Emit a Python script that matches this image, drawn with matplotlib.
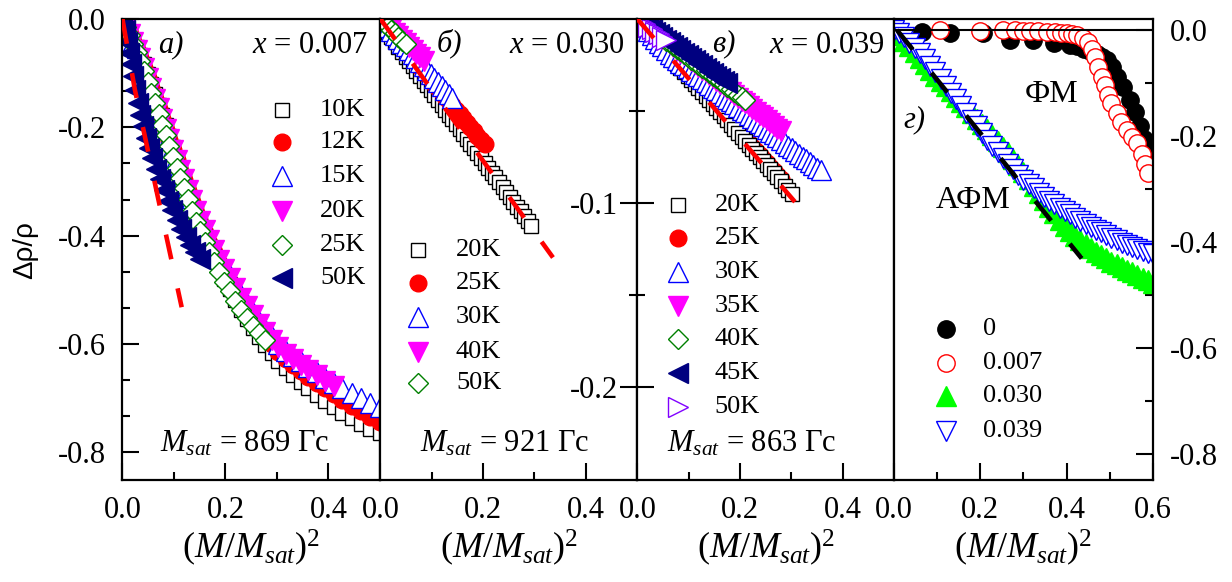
import matplotlib
matplotlib.use("Agg")
import matplotlib.pyplot as plt
from matplotlib.ticker import FixedLocator, FormatStrFormatter

plt.rcParams['font.family'] = ['Liberation Serif', 'DejaVu Serif']
plt.rcParams['mathtext.fontset'] = 'custom'
plt.rcParams['mathtext.rm'] = 'Liberation Serif'
plt.rcParams['mathtext.it'] = 'Liberation Serif:italic'
plt.rcParams['axes.unicode_minus'] = False

# ---------- panel a) x = 0.007 ----------
xa = [0.000, 0.007, 0.014, 0.021, 0.028, 0.035, 0.042, 0.049, 0.056, 0.063,
      0.070, 0.077, 0.084, 0.091, 0.098, 0.105, 0.112, 0.119, 0.127, 0.135,
      0.143, 0.151, 0.160, 0.169, 0.178, 0.188, 0.198, 0.208, 0.219, 0.230,
      0.241, 0.253, 0.265, 0.277, 0.290, 0.303, 0.317, 0.331, 0.346, 0.361,
      0.377, 0.393, 0.410, 0.427, 0.445, 0.463, 0.481, 0.500]
ya_10K = [0, -.013, -.026, -.039, -.052, -.066, -.083, -.101, -.120, -.139,
          -.158, -.177, -.196, -.216, -.236, -.256, -.276, -.295, -.316, -.337,
          -.358, -.378, -.399, -.419, -.439, -.460, -.480, -.499, -.518, -.537,
          -.554, -.571, -.587, -.602, -.617, -.631, -.645, -.658, -.670, -.682,
          -.694, -.705, -.716, -.727, -.737, -.747, -.756, -.765]
ya_12K = [0, -.014, -.028, -.043, -.057, -.072, -.090, -.109, -.128, -.147,
          -.166, -.185, -.204, -.223, -.242, -.261, -.280, -.298, -.318, -.338,
          -.358, -.376, -.395, -.413, -.431, -.450, -.468, -.486, -.504, -.522,
          -.538, -.555, -.571, -.586, -.600, -.614, -.627, -.638, -.649, -.660,
          -.671, -.682, -.693, -.704, -.714, -.724, -.734, -.744]
ya_15K = [0, -.013, -.026, -.040, -.054, -.068, -.086, -.104, -.123, -.142,
          -.160, -.179, -.198, -.217, -.236, -.255, -.273, -.290, -.310, -.330,
          -.349, -.366, -.384, -.402, -.420, -.439, -.456, -.473, -.491, -.509,
          -.524, -.541, -.557, -.572, -.586, -.599, -.612, -.622, -.632, -.642,
          -.652, -.662, -.672, -.681, -.690, -.699, -.708, -.717]
ya_20K = [0, -.014, -.028, -.043, -.057, -.072, -.090, -.109, -.128, -.147,
          -.165, -.184, -.203, -.222, -.241, -.260, -.278, -.295, -.315, -.335,
          -.355, -.372, -.390, -.408, -.426, -.445, -.462, -.479, -.497, -.515,
          -.530, -.547, -.563, -.578, -.592, -.605, -.618, -.628, -.638, -.648,
          -.658, -.668, -.678]
ya_25K = [0, -.015, -.030, -.046, -.061, -.077, -.096, -.116, -.136, -.156,
          -.175, -.195, -.215, -.235, -.255, -.275, -.294, -.312, -.333, -.354,
          -.374, -.392, -.411, -.430, -.448, -.467, -.485, -.502, -.520, -.537,
          -.552, -.567, -.580, -.592]
xa_50K = [0, .004, .008, .012, .016, .020, .025, .030, .035, .040, .046, .052,
          .058, .065, .072, .080, .088, .096, .105, .114, .123, .132, .141, .151]
ya_50K = [0, -.021, -.042, -.063, -.084, -.105, -.131, -.156, -.178, -.198,
          -.220, -.239, -.257, -.277, -.296, -.316, -.336, -.353, -.371, -.388,
          -.403, -.417, -.430, -.443]
fit_a_x = [0, 0.024, 0.069, 0.115]
fit_a_y = [0, -0.13, -0.33, -0.532]

# ---------- panels б) x = 0.030 and в) x = 0.039 ----------
xg = [0.000, 0.007, 0.014, 0.021, 0.028, 0.035, 0.042, 0.049, 0.056, 0.063,
      0.070, 0.077, 0.084, 0.091, 0.098, 0.105, 0.112, 0.119, 0.126, 0.133,
      0.140, 0.147, 0.154, 0.161, 0.168, 0.175, 0.182, 0.189, 0.196, 0.203,
      0.210, 0.217, 0.224, 0.231, 0.238, 0.245, 0.252, 0.259, 0.266, 0.273,
      0.280, 0.287, 0.294, 0.301, 0.308, 0.315, 0.322, 0.329, 0.336, 0.343,
      0.350, 0.357]
yb_20K = [0, -.0046, -.0073, -.0099, -.0125, -.0151, -.0178, -.0204, -.0230, -.0256,
          -.0283, -.0309, -.0335, -.0361, -.0388, -.0414, -.0440, -.0466, -.0493, -.0519,
          -.0545, -.0571, -.0598, -.0624, -.0650, -.0676, -.0703, -.0729, -.0755, -.0781,
          -.0808, -.0834, -.0860, -.0886, -.0913, -.0939, -.0965, -.0991, -.1018, -.1044,
          -.1070, -.1096, -.1123]
yb_25K = [0, -.0023, -.0047, -.0070, -.0094, -.0117, -.0141, -.0164, -.0188, -.0211,
          -.0235, -.0258, -.0281, -.0305, -.0328, -.0352, -.0375, -.0399, -.0422, -.0446,
          -.0469, -.0492, -.0516, -.0539, -.0563, -.0586, -.0610, -.0633, -.0657, -.0680]
yb_30K = [0, -.0021, -.0043, -.0064, -.0085, -.0107, -.0128, -.0149, -.0171, -.0192,
          -.0214, -.0235, -.0256, -.0278, -.0299, -.0320, -.0342, -.0363, -.0384, -.0406,
          -.0427]
yb_40K = [0, -.0019, -.0038, -.0057, -.0076, -.0095, -.0113, -.0132, -.0151, -.0170,
          -.0189, -.0208, -.0227]
yb_50K = [0, -.0020, -.0039, -.0059, -.0078, -.0098, -.0118, -.0137]
fit_b_x = [0, 0.336]
fit_b_y = [0, -0.1295]

yc_20K = [0, -.0022, -.0044, -.0066, -.0088, -.0110, -.0132, -.0154, -.0176, -.0198,
          -.0221, -.0243, -.0265, -.0287, -.0309, -.0331, -.0353, -.0375, -.0397, -.0419,
          -.0441, -.0463, -.0485, -.0507, -.0529, -.0551, -.0573, -.0595, -.0617, -.0639,
          -.0662, -.0684, -.0706, -.0728, -.0750, -.0772, -.0794, -.0816, -.0838, -.0860,
          -.0882, -.0904, -.0926, -.0948]
yc_25K = [0, -.0022, -.0043, -.0065, -.0087, -.0109, -.0130, -.0152, -.0174, -.0195,
          -.0217, -.0239, -.0260, -.0282, -.0304, -.0326, -.0347, -.0369, -.0391, -.0412,
          -.0434, -.0456, -.0477, -.0499, -.0521, -.0543, -.0564, -.0586, -.0608, -.0629,
          -.0651, -.0673, -.0694, -.0716, -.0738, -.0760, -.0781, -.0803, -.0825, -.0846,
          -.0868]
yc_30K = [0, -.0022, -.0044, -.0066, -.0087, -.0108, -.0128, -.0148, -.0168, -.0188,
          -.0207, -.0222, -.0237, -.0252, -.0267, -.0282, -.0297, -.0312, -.0327, -.0342,
          -.0357, -.0372, -.0387, -.0402, -.0417, -.0432, -.0447, -.0462, -.0477, -.0492,
          -.0507, -.0522, -.0537, -.0552, -.0567, -.0582, -.0597, -.0612, -.0627, -.0642,
          -.0657, -.0672, -.0687, -.0702, -.0717, -.0732, -.0747, -.0762, -.0777, -.0792,
          -.0807, -.0822]
yc_35K = [0, -.0015, -.0031, -.0046, -.0061, -.0076, -.0092, -.0107, -.0122, -.0137,
          -.0153, -.0168, -.0183, -.0198, -.0214, -.0229, -.0244, -.0259, -.0275, -.0290,
          -.0305, -.0320, -.0336, -.0351, -.0366, -.0382, -.0397, -.0412, -.0427, -.0443,
          -.0458, -.0473, -.0488, -.0504, -.0519, -.0534, -.0549, -.0565, -.0580, -.0595,
          -.0610]
yc_40K = [0, -.0015, -.0029, -.0044, -.0059, -.0074, -.0088, -.0103, -.0118, -.0132,
          -.0147, -.0162, -.0176, -.0191, -.0206, -.0221, -.0235, -.0250, -.0265, -.0279,
          -.0294, -.0309, -.0323, -.0338, -.0353, -.0368, -.0382, -.0397, -.0412, -.0426,
          -.0441]
yc_45K = [0, -.0014, -.0028, -.0042, -.0056, -.0070, -.0084, -.0098, -.0112, -.0126,
          -.0140, -.0154, -.0168, -.0182, -.0196, -.0210, -.0224, -.0238, -.0252, -.0266,
          -.0280, -.0294, -.0308, -.0322, -.0336, -.0350]
yc_50K = [0, -.0014, -.0028, -.0042, -.0056, -.0070, -.0084, -.0098, -.0112]
fit_c_x = [0, 0.307]
fit_c_y = [0, -0.0993]

# ---------- panel г) comparison ----------
xd_0 = [0.0, 0.064, 0.13, 0.206, 0.269, 0.322, 0.37, 0.408, 0.424, 0.44, 0.455, 0.47,
        0.483, 0.493, 0.505, 0.517, 0.53, 0.547, 0.558, 0.57, 0.58, 0.586, 0.595]
yd_0 = [0.0, -0.003, -0.006, -0.006, -0.019, -0.019, -0.024, -0.028, -0.031, -0.035,
        -0.04, -0.046, -0.051, -0.057, -0.07, -0.088, -0.108, -0.132, -0.155, -0.182,
        -0.205, -0.22, -0.245]
xd_007 = [0, 0.107, 0.199, 0.253, 0.28, 0.3, 0.315, 0.334, 0.354, 0.373, 0.388, 0.4,
          0.412, 0.423, 0.439, 0.45, 0.458, 0.466, 0.473, 0.481, 0.489, 0.496, 0.504,
          0.516, 0.527, 0.539, 0.551, 0.562, 0.574, 0.581, 0.589]
yd_007 = [0, 0.0, -0.001, 0.0, 0.0, -0.001, -0.001, -0.002, -0.003, -0.004, -0.005,
          -0.006, -0.007, -0.009, -0.016, -0.022, -0.035, -0.05, -0.069, -0.088, -0.104,
          -0.123, -0.138, -0.157, -0.173, -0.189, -0.201, -0.214, -0.233, -0.252, -0.27]
xd = [0.000, 0.012, 0.024, 0.036, 0.048, 0.060, 0.072, 0.084, 0.096, 0.108,
      0.120, 0.132, 0.144, 0.156, 0.168, 0.180, 0.192, 0.204, 0.216, 0.228,
      0.240, 0.252, 0.264, 0.276, 0.288, 0.300, 0.312, 0.324, 0.336, 0.348,
      0.360, 0.372, 0.384, 0.396, 0.408, 0.420, 0.432, 0.444, 0.456, 0.468,
      0.480, 0.492, 0.504, 0.516, 0.528, 0.540, 0.552, 0.564, 0.576, 0.588, 0.600]
yd_030 = [0, -.010, -.020, -.031, -.042, -.053, -.064, -.075, -.086, -.096,
          -.106, -.116, -.126, -.136, -.146, -.156, -.167, -.177, -.187, -.198,
          -.209, -.220, -.231, -.243, -.255, -.268, -.281, -.294, -.307, -.321,
          -.334, -.346, -.358, -.369, -.379, -.388, -.396, -.404, -.411, -.418,
          -.425, -.431, -.437, -.442, -.447, -.452, -.457, -.462, -.467, -.472, -.477]
yd_039 = [0, -.006, -.014, -.024, -.034, -.044, -.055, -.067, -.080, -.093,
          -.106, -.118, -.131, -.144, -.156, -.169, -.182, -.195, -.207, -.219,
          -.231, -.242, -.253, -.263, -.273, -.283, -.291, -.299, -.307, -.315,
          -.322, -.329, -.336, -.342, -.348, -.354, -.360, -.366, -.372, -.377,
          -.382, -.387, -.392, -.397, -.401, -.405, -.409, -.413, -.417, -.420, -.423]
fit_d_x = [0.007, 0.435]
fit_d_y = [0.0, -0.431]

# marker styles: (marker, colour, filled, size)
SQ = ('s', 'black', False, 10.5)
CI = ('o', 'red', True, 12)
UP = ('^', 'blue', False, 14)
DN = ('v', 'magenta', True, 14)
DI = ('D', 'green', False, 10)
LT = ('<', 'navy', True, 14)
RT = ('>', '#8000ff', False, 14)


def pts(ax, x, y, st, z=2):
    m, c, filled, ms = st
    ax.plot(x[:len(y)], y, ls='none', marker=m, ms=ms, mec=c,
            mfc=c if filled else 'white', mew=1.0, zorder=z)


def dashed(ax, x, y, c):
    ax.plot(x, y, color=c, lw=3.3, dashes=(5.5, 6.5), zorder=10)


def leg(ax, items, xm, xt, ys, fs=19):
    for (st, lab), yy in zip(items, ys):
        m, c, filled, ms = st
        ax.plot([xm], [yy], transform=ax.transAxes, ls='none', marker=m, ms=ms,
                mec=c, mfc=c if filled else 'white', mew=1.0, clip_on=False)
        ax.text(xt, yy, lab, transform=ax.transAxes, va='center', fontsize=fs)


fig = plt.figure(figsize=(12.32, 5.82), dpi=100)
bot, hgt = 0.1761, 0.7913
axa = fig.add_axes([0.0994, bot, 0.2090, hgt])
axb = fig.add_axes([0.3088, bot, 0.2084, hgt])
axc = fig.add_axes([0.5173, bot, 0.2084, hgt])
axd = fig.add_axes([0.7256, bot, 0.2102, hgt])

for ax in (axa, axb, axc, axd):
    for s in ax.spines.values():
        s.set_linewidth(1.6)
    ax.tick_params(which='both', direction='in', width=1.5, labelsize=22,
                   top=False, right=False, left=False, pad=12)
    ax.tick_params(which='major', length=12)
    ax.tick_params(which='minor', length=6)
    ax.xaxis.set_major_formatter(FormatStrFormatter('%.1f'))
    ax.yaxis.set_major_formatter(FormatStrFormatter('%.1f'))
    ax.set_xlabel(r'$(M/M_{sat})^2$', fontsize=26, labelpad=2)

for ax in (axa, axb, axc):
    ax.set_xlim(0, 0.5)
    ax.xaxis.set_major_locator(FixedLocator([0.0, 0.2, 0.4]))
    ax.xaxis.set_minor_locator(FixedLocator([0.1, 0.3]))

# a)
axa.set_ylim(-0.85, 0)
axa.yaxis.set_major_locator(FixedLocator([0.0, -0.2, -0.4, -0.6, -0.8]))
axa.yaxis.set_minor_locator(FixedLocator([-0.0667, -0.1333, -0.2667, -0.3333, -0.4667,
                                          -0.5333, -0.6667, -0.7333]))
axa.tick_params(axis='y', which='both', left=True, labelleft=True)
pts(axa, xa, ya_10K, SQ)
pts(axa, xa, ya_12K, CI)
pts(axa, xa, ya_15K, UP)
pts(axa, xa, ya_20K, DN)
pts(axa, xa, ya_25K, DI)
pts(axa, xa_50K, ya_50K, LT)
dashed(axa, fit_a_x, fit_a_y, 'red')
axa.text(0.138, 0.927, 'а)', transform=axa.transAxes, fontsize=22, style='italic')
axa.text(0.953, 0.927, r'$x$ = 0.007', transform=axa.transAxes, fontsize=22, ha='right')
axa.text(0.146, 0.06, r'$M_{sat}$ = 869 Гс', transform=axa.transAxes, fontsize=22)
leg(axa, [(SQ, '10K'), (CI, '12K'), (UP, '15K'), (DN, '20K'), (DI, '25K'), (LT, '50K')],
    0.619, 0.767, [0.803, 0.732, 0.658, 0.582, 0.51, 0.438])

# б)
axb.set_ylim(-0.25, 0)
axb.tick_params(axis='y', which='both', left=False, labelleft=False)
pts(axb, xg, yb_20K, SQ)
pts(axb, xg, yb_25K, CI)
pts(axb, xg, yb_30K, UP)
pts(axb, xg, yb_40K, DN)
pts(axb, xg, yb_50K, DI)
dashed(axb, fit_b_x, fit_b_y, 'red')
axb.text(0.22, 0.929, 'б)', transform=axb.transAxes, fontsize=22, style='italic')
axb.text(0.951, 0.927, r'$x$ = 0.030', transform=axb.transAxes, fontsize=22, ha='right')
axb.text(0.154, 0.06, r'$M_{sat}$ = 921 Гс', transform=axb.transAxes, fontsize=22)
leg(axb, [(SQ, '20K'), (CI, '25K'), (UP, '30K'), (DN, '40K'), (DI, '50K')],
    0.146, 0.294, [0.499, 0.427, 0.353, 0.277, 0.21])

# в)
axc.set_ylim(-0.25, 0)
axc.yaxis.set_major_locator(FixedLocator([-0.2, -0.1]))
axc.yaxis.set_minor_locator(FixedLocator([-0.15, -0.05]))
axc.tick_params(axis='y', which='both', left=True, labelleft=True, direction='inout')
axc.tick_params(axis='y', which='major', length=24, pad=2)
axc.tick_params(axis='y', which='minor', length=12)
pts(axc, xg, yc_25K, CI, z=1)
pts(axc, xg, yc_20K, SQ)
pts(axc, xg, yc_30K, UP)
pts(axc, xg, yc_35K, DN)
pts(axc, xg, yc_40K, DI)
pts(axc, xg, yc_45K, LT)
pts(axc, xg, yc_50K, RT)
dashed(axc, fit_c_x, fit_c_y, 'red')
axc.text(0.29, 0.929, 'в)', transform=axc.transAxes, fontsize=22, style='italic')
axc.text(0.963, 0.927, r'$x$ = 0.039', transform=axc.transAxes, fontsize=22, ha='right')
axc.text(0.116, 0.06, r'$M_{sat}$ = 863 Гс', transform=axc.transAxes, fontsize=22)
leg(axc, [(SQ, '20K'), (CI, '25K'), (UP, '30K'), (DN, '35K'),
          (DI, '40K'), (LT, '45K'), (RT, '50K')],
    0.158, 0.302, [0.597, 0.525, 0.451, 0.377, 0.305, 0.232, 0.158])

# г)
axd.set_xlim(0, 0.6)
axd.set_ylim(-0.848, 0.0208)
axd.xaxis.set_major_locator(FixedLocator([0.0, 0.2, 0.4, 0.6]))
axd.xaxis.set_minor_locator(FixedLocator([0.1, 0.3, 0.5]))
axd.yaxis.set_major_locator(FixedLocator([0.0, -0.2, -0.4, -0.6, -0.8]))
axd.yaxis.set_minor_locator(FixedLocator([-0.1, -0.3, -0.5, -0.7]))
axd.tick_params(axis='y', which='both', right=True, labelright=True,
                left=False, labelleft=False)
axd.axhline(0, color='black', lw=1.5, zorder=5)
BK = ('o', 'black', True, 12.5)
RO = ('o', 'red', False, 12.5)
GT = ('^', '#00ff00', True, 14)
BT = ('v', 'blue', False, 14)
pts(axd, xd_0, yd_0, BK)
pts(axd, xd_007, yd_007, RO)
pts(axd, xd, yd_030, GT)
pts(axd, xd, yd_039, BT)
dashed(axd, fit_d_x, fit_d_y, 'black')
axd.text(0.035, 0.764, 'г)', transform=axd.transAxes, fontsize=22, style='italic')
axd.text(0.61, 0.82, 'ФМ', transform=axd.transAxes, fontsize=23, ha='center')
axd.text(0.305, 0.59, 'АФМ', transform=axd.transAxes, fontsize=23, ha='center')
leg(axd, [(BK, '0'), (RO, '0.007'), (GT, '0.030'), (BT, '0.039')],
    0.2, 0.344, [0.327, 0.253, 0.182, 0.105])

fig.text(0.0203, 0.570, 'Δρ/ρ', rotation=90, ha='center', va='center',
         fontsize=20, family=['Liberation Sans', 'DejaVu Sans'])

fig.savefig('out.png', dpi=100)
